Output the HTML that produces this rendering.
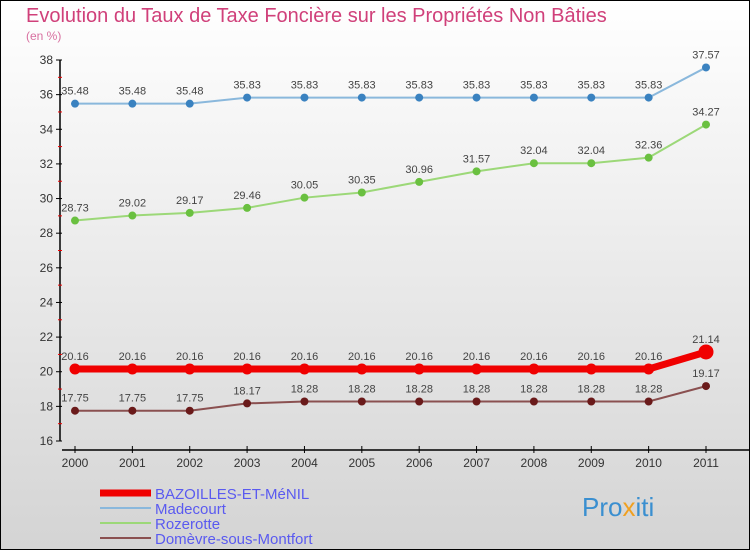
<!DOCTYPE html>
<html><head><meta charset="utf-8"><style>
body{margin:0;}
#c{width:750px;height:550px;position:relative;font-family:"Liberation Sans",sans-serif;}
svg text{font-family:"Liberation Sans",sans-serif;}
</style></head><body>
<div id="c">
<svg id="s" width="750" height="550" xmlns="http://www.w3.org/2000/svg">
<defs><linearGradient id="bg" x1="0" y1="0" x2="0" y2="1"><stop offset="0" stop-color="#ffffff"/><stop offset="1" stop-color="#d4d4d4"/></linearGradient></defs>
<rect x="0.5" y="0.5" width="749" height="549" fill="url(#bg)" stroke="#000"/>
<text x="26" y="22" font-size="20" fill="#d0407a">Evolution du Taux de Taxe Foncière sur les Propriétés Non Bâties</text>
<text x="26" y="40" font-size="12" fill="#d870a0">(en %)</text>
<g id="axes"></g>
<g id="series"></g>
<g id="legend"></g>
<text x="582" y="516" font-size="26" fill="#3a8fd0">Pro<tspan fill="#f0a020">x</tspan>iti</text>
</svg>
</div>
<script>
const years=[2000,2001,2002,2003,2004,2005,2006,2007,2008,2009,2010,2011];
const yTicks=[16,18,20,22,24,26,28,30,32,34,36,38];
const bazoilles=[20.16,20.16,20.16,20.16,20.16,20.16,20.16,20.16,20.16,20.16,20.16,21.14];
const madecourt=[35.48,35.48,35.48,35.83,35.83,35.83,35.83,35.83,35.83,35.83,35.83,37.57];
const rozerotte=[28.73,29.02,29.17,29.46,30.05,30.35,30.96,31.57,32.04,32.04,32.36,34.27];
const domevre=[17.75,17.75,17.75,18.17,18.28,18.28,18.28,18.28,18.28,18.28,18.28,19.17];
const names=["BAZOILLES-ET-MéNIL","Madecourt","Rozerotte","Domèvre-sous-Montfort"];
const NS="http://www.w3.org/2000/svg";
const xS=i=>75+i*(706-75)/(years.length-1);
const yS=v=>441-(v-16)*(441-60)/22;
function mk(t,a,p){const e=document.createElementNS(NS,t);for(const k in a)e.setAttribute(k,a[k]);p.appendChild(e);return e;}
const ax=document.getElementById('axes');
const yl=mk('line',{x1:60,y1:60,x2:60,y2:441,stroke:'#000','stroke-width':1.5},ax);


yTicks.forEach((v,k)=>{
 mk('line',{x1:56,y1:yS(v),x2:62,y2:yS(v),stroke:'#000'},ax);
 if(k<yTicks.length-1) mk('line',{x1:58,y1:yS(v+1),x2:62,y2:yS(v+1),stroke:'#e00'},ax);
 const t=mk('text',{x:53,y:yS(v)+4,'font-size':12,'text-anchor':'end',fill:'#333'},ax);t.textContent=v;
 
 
});
const xl=mk('line',{x1:62,y1:450,x2:750,y2:450,stroke:'#000','stroke-width':1.5},ax);


years.forEach((y,i)=>{
 mk('line',{x1:xS(i),y1:446,x2:xS(i),y2:453,stroke:'#000'},ax);
 const t=mk('text',{x:xS(i),y:467,'font-size':12,'text-anchor':'middle',fill:'#333'},ax);t.textContent=y;
 
 
});
const sg=document.getElementById('series');
function series(d,col,w,r,dot,name){
 const g=mk('g',{},sg);
 
 
 mk('polyline',{points:d.map((v,i)=>xS(i)+','+yS(v)).join(' '),fill:'none',stroke:col,'stroke-width':w},g);
 d.forEach((v,i)=>{
  const c=mk('circle',{cx:xS(i),cy:yS(v),r:(i==d.length-1&&w>4)?r+2:r,fill:dot},g);
  
  
  const t=mk('text',{x:xS(i),y:yS(v)-9,'font-size':11,'text-anchor':'middle',fill:'#444'},g);t.textContent=v;
  
  
 });
}
series(madecourt,'#8ab8dc',2,4,'#3a82c0','series-madecourt');
series(rozerotte,'#9cd878',2,4,'#6ac040','series-rozerotte');
series(domevre,'#8a5050',2,4,'#6a1a1a','series-domevre');
series(bazoilles,'#f00000',7,5.5,'#f00000','series-bazoilles');
const lg=document.getElementById('legend');
const cols=['#f00000','#8ab8dc','#9cd878','#8a5050'],ws=[7,2,2,2];
names.forEach((n,i)=>{
 const g=mk('g',{},lg);
 
 
 const y=493+i*15;
 mk('line',{x1:100,y1:y,x2:151,y2:y,stroke:cols[i],'stroke-width':ws[i]},g);
 const t=mk('text',{x:155,y:y+6,'font-size':15,fill:'#5a5af0'},g);t.textContent=n;
});
</script>
</body></html>
